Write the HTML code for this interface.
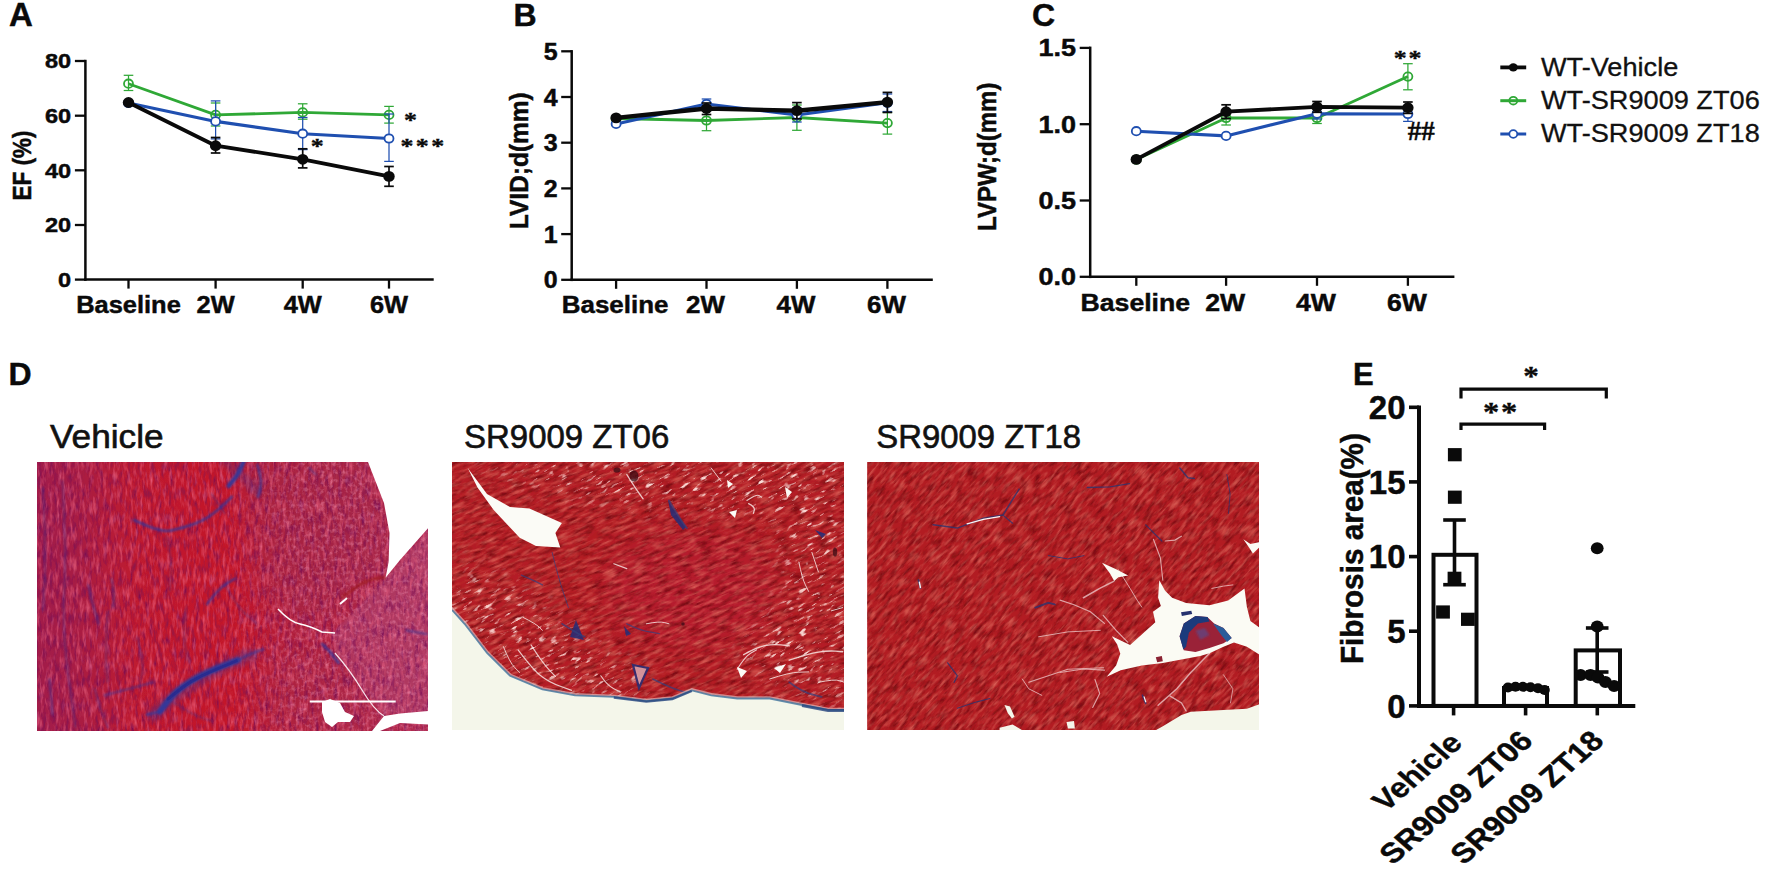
<!DOCTYPE html>
<html lang="en">
<head>
<meta charset="utf-8">
<title>Figure</title>
<style>
html,body{margin:0;padding:0;background:#fff;}
body{width:1772px;height:878px;overflow:hidden;}
svg{display:block;}
</style>
</head>
<body>
<svg width="1772" height="878" viewBox="0 0 1772 878">
<rect width="1772" height="878" fill="#fff"/>
<text transform="translate(9.0,26.0)" font-family='"Liberation Sans", sans-serif' font-size="33" font-weight="bold" text-anchor="start" fill="#0a0a0a" stroke="#0a0a0a" stroke-width="0.45" >A</text>
<line x1="128.5" y1="75.3" x2="128.5" y2="90.5" stroke="#2fa836" stroke-width="1.25" stroke-linecap="butt"/>
<line x1="123.7" y1="75.3" x2="133.3" y2="75.3" stroke="#2fa836" stroke-width="1.25" stroke-linecap="butt"/>
<line x1="123.7" y1="90.5" x2="133.3" y2="90.5" stroke="#2fa836" stroke-width="1.25" stroke-linecap="butt"/>
<line x1="215.6" y1="103.0" x2="215.6" y2="126.0" stroke="#2fa836" stroke-width="1.25" stroke-linecap="butt"/>
<line x1="210.8" y1="103.0" x2="220.4" y2="103.0" stroke="#2fa836" stroke-width="1.25" stroke-linecap="butt"/>
<line x1="210.8" y1="126.0" x2="220.4" y2="126.0" stroke="#2fa836" stroke-width="1.25" stroke-linecap="butt"/>
<line x1="302.7" y1="103.8" x2="302.7" y2="119.2" stroke="#2fa836" stroke-width="1.25" stroke-linecap="butt"/>
<line x1="297.9" y1="103.8" x2="307.5" y2="103.8" stroke="#2fa836" stroke-width="1.25" stroke-linecap="butt"/>
<line x1="297.9" y1="119.2" x2="307.5" y2="119.2" stroke="#2fa836" stroke-width="1.25" stroke-linecap="butt"/>
<line x1="389.0" y1="106.4" x2="389.0" y2="123.1" stroke="#2fa836" stroke-width="1.25" stroke-linecap="butt"/>
<line x1="384.2" y1="106.4" x2="393.8" y2="106.4" stroke="#2fa836" stroke-width="1.25" stroke-linecap="butt"/>
<line x1="384.2" y1="123.1" x2="393.8" y2="123.1" stroke="#2fa836" stroke-width="1.25" stroke-linecap="butt"/>
<polyline points="128.5,83.7 215.6,114.9 302.7,112.4 389.0,114.9" fill="none" stroke="#2fa836" stroke-width="2.8" stroke-linejoin="round"/>
<ellipse cx="128.5" cy="83.7" rx="4.5" ry="4.2" fill="none" stroke="#2fa836" stroke-width="1.8"/>
<ellipse cx="215.6" cy="114.9" rx="4.5" ry="4.2" fill="none" stroke="#2fa836" stroke-width="1.8"/>
<ellipse cx="302.7" cy="112.4" rx="4.5" ry="4.2" fill="none" stroke="#2fa836" stroke-width="1.8"/>
<ellipse cx="389.0" cy="114.9" rx="4.5" ry="4.2" fill="none" stroke="#2fa836" stroke-width="1.8"/>
<line x1="215.6" y1="100.9" x2="215.6" y2="138.9" stroke="#1f4fb0" stroke-width="1.25" stroke-linecap="butt"/>
<line x1="210.8" y1="100.9" x2="220.4" y2="100.9" stroke="#1f4fb0" stroke-width="1.25" stroke-linecap="butt"/>
<line x1="210.8" y1="138.9" x2="220.4" y2="138.9" stroke="#1f4fb0" stroke-width="1.25" stroke-linecap="butt"/>
<line x1="302.7" y1="117.5" x2="302.7" y2="149.6" stroke="#1f4fb0" stroke-width="1.25" stroke-linecap="butt"/>
<line x1="297.9" y1="117.5" x2="307.5" y2="117.5" stroke="#1f4fb0" stroke-width="1.25" stroke-linecap="butt"/>
<line x1="297.9" y1="149.6" x2="307.5" y2="149.6" stroke="#1f4fb0" stroke-width="1.25" stroke-linecap="butt"/>
<line x1="389.0" y1="114.0" x2="389.0" y2="161.4" stroke="#1f4fb0" stroke-width="1.25" stroke-linecap="butt"/>
<line x1="384.2" y1="114.0" x2="393.8" y2="114.0" stroke="#1f4fb0" stroke-width="1.25" stroke-linecap="butt"/>
<line x1="384.2" y1="161.4" x2="393.8" y2="161.4" stroke="#1f4fb0" stroke-width="1.25" stroke-linecap="butt"/>
<polyline points="128.5,103.0 215.6,121.4 302.7,133.7 389.0,138.5" fill="none" stroke="#1f4fb0" stroke-width="3.1" stroke-linejoin="round"/>
<ellipse cx="128.5" cy="103.0" rx="4.5" ry="4.2" fill="#fff" stroke="#1f4fb0" stroke-width="1.8"/>
<ellipse cx="215.6" cy="121.4" rx="4.5" ry="4.2" fill="#fff" stroke="#1f4fb0" stroke-width="1.8"/>
<ellipse cx="302.7" cy="133.7" rx="4.5" ry="4.2" fill="#fff" stroke="#1f4fb0" stroke-width="1.8"/>
<ellipse cx="389.0" cy="138.5" rx="4.5" ry="4.2" fill="#fff" stroke="#1f4fb0" stroke-width="1.8"/>
<line x1="215.6" y1="137.5" x2="215.6" y2="153.0" stroke="#0a0a0a" stroke-width="1.7" stroke-linecap="butt"/>
<line x1="210.8" y1="137.5" x2="220.4" y2="137.5" stroke="#0a0a0a" stroke-width="1.7" stroke-linecap="butt"/>
<line x1="210.8" y1="153.0" x2="220.4" y2="153.0" stroke="#0a0a0a" stroke-width="1.7" stroke-linecap="butt"/>
<line x1="302.7" y1="148.8" x2="302.7" y2="167.9" stroke="#0a0a0a" stroke-width="1.7" stroke-linecap="butt"/>
<line x1="297.9" y1="148.8" x2="307.5" y2="148.8" stroke="#0a0a0a" stroke-width="1.7" stroke-linecap="butt"/>
<line x1="297.9" y1="167.9" x2="307.5" y2="167.9" stroke="#0a0a0a" stroke-width="1.7" stroke-linecap="butt"/>
<line x1="389.0" y1="166.5" x2="389.0" y2="186.3" stroke="#0a0a0a" stroke-width="1.7" stroke-linecap="butt"/>
<line x1="384.2" y1="166.5" x2="393.8" y2="166.5" stroke="#0a0a0a" stroke-width="1.7" stroke-linecap="butt"/>
<line x1="384.2" y1="186.3" x2="393.8" y2="186.3" stroke="#0a0a0a" stroke-width="1.7" stroke-linecap="butt"/>
<polyline points="128.5,102.5 215.6,145.7 302.7,159.3 389.0,176.4" fill="none" stroke="#0a0a0a" stroke-width="3.8" stroke-linejoin="round"/>
<ellipse cx="128.5" cy="102.5" rx="5.7" ry="5.4" fill="#0a0a0a"/>
<ellipse cx="215.6" cy="145.7" rx="5.7" ry="5.4" fill="#0a0a0a"/>
<ellipse cx="302.7" cy="159.3" rx="5.7" ry="5.4" fill="#0a0a0a"/>
<ellipse cx="389.0" cy="176.4" rx="5.7" ry="5.4" fill="#0a0a0a"/>
<line x1="85.4" y1="59.8" x2="85.4" y2="280.9" stroke="#0a0a0a" stroke-width="2.5" stroke-linecap="butt"/>
<line x1="84.2" y1="279.6" x2="433.7" y2="279.6" stroke="#0a0a0a" stroke-width="2.5" stroke-linecap="butt"/>
<line x1="74.9" y1="279.6" x2="85.4" y2="279.6" stroke="#0a0a0a" stroke-width="2.3" stroke-linecap="butt"/>
<text transform="translate(71.2,286.9) scale(1.150,1)" font-family='"Liberation Sans", sans-serif' font-size="20.5" font-weight="bold" text-anchor="end" fill="#0a0a0a" stroke="#0a0a0a" stroke-width="0.45" >0</text>
<line x1="74.9" y1="225.0" x2="85.4" y2="225.0" stroke="#0a0a0a" stroke-width="2.3" stroke-linecap="butt"/>
<text transform="translate(71.2,232.3) scale(1.150,1)" font-family='"Liberation Sans", sans-serif' font-size="20.5" font-weight="bold" text-anchor="end" fill="#0a0a0a" stroke="#0a0a0a" stroke-width="0.45" >20</text>
<line x1="74.9" y1="170.3" x2="85.4" y2="170.3" stroke="#0a0a0a" stroke-width="2.3" stroke-linecap="butt"/>
<text transform="translate(71.2,177.6) scale(1.150,1)" font-family='"Liberation Sans", sans-serif' font-size="20.5" font-weight="bold" text-anchor="end" fill="#0a0a0a" stroke="#0a0a0a" stroke-width="0.45" >40</text>
<line x1="74.9" y1="115.7" x2="85.4" y2="115.7" stroke="#0a0a0a" stroke-width="2.3" stroke-linecap="butt"/>
<text transform="translate(71.2,123.0) scale(1.150,1)" font-family='"Liberation Sans", sans-serif' font-size="20.5" font-weight="bold" text-anchor="end" fill="#0a0a0a" stroke="#0a0a0a" stroke-width="0.45" >60</text>
<line x1="74.9" y1="61.0" x2="85.4" y2="61.0" stroke="#0a0a0a" stroke-width="2.3" stroke-linecap="butt"/>
<text transform="translate(71.2,68.3) scale(1.150,1)" font-family='"Liberation Sans", sans-serif' font-size="20.5" font-weight="bold" text-anchor="end" fill="#0a0a0a" stroke="#0a0a0a" stroke-width="0.45" >80</text>
<line x1="128.5" y1="279.6" x2="128.5" y2="288.6" stroke="#0a0a0a" stroke-width="2.3" stroke-linecap="butt"/>
<text transform="translate(128.5,312.8) scale(1.060,1)" font-family='"Liberation Sans", sans-serif' font-size="24" font-weight="bold" text-anchor="middle" fill="#0a0a0a" stroke="#0a0a0a" stroke-width="0.45" >Baseline</text>
<line x1="215.6" y1="279.6" x2="215.6" y2="288.6" stroke="#0a0a0a" stroke-width="2.3" stroke-linecap="butt"/>
<text transform="translate(215.6,312.8) scale(1.060,1)" font-family='"Liberation Sans", sans-serif' font-size="24" font-weight="bold" text-anchor="middle" fill="#0a0a0a" stroke="#0a0a0a" stroke-width="0.45" >2W</text>
<line x1="302.7" y1="279.6" x2="302.7" y2="288.6" stroke="#0a0a0a" stroke-width="2.3" stroke-linecap="butt"/>
<text transform="translate(302.7,312.8) scale(1.060,1)" font-family='"Liberation Sans", sans-serif' font-size="24" font-weight="bold" text-anchor="middle" fill="#0a0a0a" stroke="#0a0a0a" stroke-width="0.45" >4W</text>
<line x1="389.0" y1="279.6" x2="389.0" y2="288.6" stroke="#0a0a0a" stroke-width="2.3" stroke-linecap="butt"/>
<text transform="translate(389.0,312.8) scale(1.060,1)" font-family='"Liberation Sans", sans-serif' font-size="24" font-weight="bold" text-anchor="middle" fill="#0a0a0a" stroke="#0a0a0a" stroke-width="0.45" >6W</text>
<text transform="translate(30.6,165.5) scale(1.120,1) rotate(-90)" font-family='"Liberation Sans", sans-serif' font-size="22.5" font-weight="bold" text-anchor="middle" fill="#0a0a0a" stroke="#0a0a0a" stroke-width="0.45" >EF (%)</text>
<text transform="translate(410.5,127.3) scale(1.180,1)" font-family='"Liberation Serif", serif' font-size="22" font-weight="bold" text-anchor="middle" fill="#0a0a0a" stroke="#0a0a0a" stroke-width="0.35" >*</text>
<text transform="translate(423.5,152.8) scale(1.180,1)" font-family='"Liberation Serif", serif' font-size="22" font-weight="bold" text-anchor="middle" fill="#0a0a0a" stroke="#0a0a0a" stroke-width="0.35" letter-spacing="2">***</text>
<text transform="translate(317.3,153.0) scale(1.180,1)" font-family='"Liberation Serif", serif' font-size="22" font-weight="bold" text-anchor="middle" fill="#0a0a0a" stroke="#0a0a0a" stroke-width="0.35" >*</text>
<text transform="translate(513.5,25.6)" font-family='"Liberation Sans", sans-serif' font-size="32" font-weight="bold" text-anchor="start" fill="#0a0a0a" stroke="#0a0a0a" stroke-width="0.45" >B</text>
<line x1="706.5" y1="110.5" x2="706.5" y2="130.7" stroke="#2fa836" stroke-width="1.25" stroke-linecap="butt"/>
<line x1="701.7" y1="110.5" x2="711.3" y2="110.5" stroke="#2fa836" stroke-width="1.25" stroke-linecap="butt"/>
<line x1="701.7" y1="130.7" x2="711.3" y2="130.7" stroke="#2fa836" stroke-width="1.25" stroke-linecap="butt"/>
<line x1="796.9" y1="105.0" x2="796.9" y2="130.3" stroke="#2fa836" stroke-width="1.25" stroke-linecap="butt"/>
<line x1="792.1" y1="105.0" x2="801.7" y2="105.0" stroke="#2fa836" stroke-width="1.25" stroke-linecap="butt"/>
<line x1="792.1" y1="130.3" x2="801.7" y2="130.3" stroke="#2fa836" stroke-width="1.25" stroke-linecap="butt"/>
<line x1="887.4" y1="112.5" x2="887.4" y2="134.1" stroke="#2fa836" stroke-width="1.25" stroke-linecap="butt"/>
<line x1="882.6" y1="112.5" x2="892.2" y2="112.5" stroke="#2fa836" stroke-width="1.25" stroke-linecap="butt"/>
<line x1="882.6" y1="134.1" x2="892.2" y2="134.1" stroke="#2fa836" stroke-width="1.25" stroke-linecap="butt"/>
<polyline points="616.1,118.5 706.5,120.5 796.9,117.5 887.4,123.1" fill="none" stroke="#2fa836" stroke-width="2.8" stroke-linejoin="round"/>
<ellipse cx="616.1" cy="118.5" rx="4.5" ry="4.2" fill="none" stroke="#2fa836" stroke-width="1.8"/>
<ellipse cx="706.5" cy="120.5" rx="4.5" ry="4.2" fill="none" stroke="#2fa836" stroke-width="1.8"/>
<ellipse cx="796.9" cy="117.5" rx="4.5" ry="4.2" fill="none" stroke="#2fa836" stroke-width="1.8"/>
<ellipse cx="887.4" cy="123.1" rx="4.5" ry="4.2" fill="none" stroke="#2fa836" stroke-width="1.8"/>
<line x1="706.5" y1="99.0" x2="706.5" y2="109.0" stroke="#1f4fb0" stroke-width="1.25" stroke-linecap="butt"/>
<line x1="701.7" y1="99.0" x2="711.3" y2="99.0" stroke="#1f4fb0" stroke-width="1.25" stroke-linecap="butt"/>
<line x1="701.7" y1="109.0" x2="711.3" y2="109.0" stroke="#1f4fb0" stroke-width="1.25" stroke-linecap="butt"/>
<line x1="796.9" y1="108.0" x2="796.9" y2="122.0" stroke="#1f4fb0" stroke-width="1.25" stroke-linecap="butt"/>
<line x1="792.1" y1="108.0" x2="801.7" y2="108.0" stroke="#1f4fb0" stroke-width="1.25" stroke-linecap="butt"/>
<line x1="792.1" y1="122.0" x2="801.7" y2="122.0" stroke="#1f4fb0" stroke-width="1.25" stroke-linecap="butt"/>
<line x1="887.4" y1="94.0" x2="887.4" y2="111.5" stroke="#1f4fb0" stroke-width="1.25" stroke-linecap="butt"/>
<line x1="882.6" y1="94.0" x2="892.2" y2="94.0" stroke="#1f4fb0" stroke-width="1.25" stroke-linecap="butt"/>
<line x1="882.6" y1="111.5" x2="892.2" y2="111.5" stroke="#1f4fb0" stroke-width="1.25" stroke-linecap="butt"/>
<polyline points="616.1,123.9 706.5,104.0 796.9,115.0 887.4,102.8" fill="none" stroke="#1f4fb0" stroke-width="3.1" stroke-linejoin="round"/>
<ellipse cx="616.1" cy="123.9" rx="4.5" ry="4.2" fill="#fff" stroke="#1f4fb0" stroke-width="1.8"/>
<ellipse cx="706.5" cy="104.0" rx="4.5" ry="4.2" fill="#fff" stroke="#1f4fb0" stroke-width="1.8"/>
<ellipse cx="796.9" cy="115.0" rx="4.5" ry="4.2" fill="#fff" stroke="#1f4fb0" stroke-width="1.8"/>
<ellipse cx="887.4" cy="102.8" rx="4.5" ry="4.2" fill="#fff" stroke="#1f4fb0" stroke-width="1.8"/>
<line x1="706.5" y1="103.0" x2="706.5" y2="114.5" stroke="#0a0a0a" stroke-width="1.7" stroke-linecap="butt"/>
<line x1="701.7" y1="103.0" x2="711.3" y2="103.0" stroke="#0a0a0a" stroke-width="1.7" stroke-linecap="butt"/>
<line x1="701.7" y1="114.5" x2="711.3" y2="114.5" stroke="#0a0a0a" stroke-width="1.7" stroke-linecap="butt"/>
<line x1="796.9" y1="102.6" x2="796.9" y2="118.8" stroke="#0a0a0a" stroke-width="1.7" stroke-linecap="butt"/>
<line x1="792.1" y1="102.6" x2="801.7" y2="102.6" stroke="#0a0a0a" stroke-width="1.7" stroke-linecap="butt"/>
<line x1="792.1" y1="118.8" x2="801.7" y2="118.8" stroke="#0a0a0a" stroke-width="1.7" stroke-linecap="butt"/>
<line x1="887.4" y1="92.4" x2="887.4" y2="112.4" stroke="#0a0a0a" stroke-width="1.7" stroke-linecap="butt"/>
<line x1="882.6" y1="92.4" x2="892.2" y2="92.4" stroke="#0a0a0a" stroke-width="1.7" stroke-linecap="butt"/>
<line x1="882.6" y1="112.4" x2="892.2" y2="112.4" stroke="#0a0a0a" stroke-width="1.7" stroke-linecap="butt"/>
<polyline points="616.1,117.9 706.5,108.5 796.9,110.7 887.4,102.1" fill="none" stroke="#0a0a0a" stroke-width="4.4" stroke-linejoin="round"/>
<ellipse cx="616.1" cy="117.9" rx="5.7" ry="5.4" fill="#0a0a0a"/>
<ellipse cx="706.5" cy="108.5" rx="5.7" ry="5.4" fill="#0a0a0a"/>
<ellipse cx="796.9" cy="110.7" rx="5.7" ry="5.4" fill="#0a0a0a"/>
<ellipse cx="887.4" cy="102.1" rx="5.7" ry="5.4" fill="#0a0a0a"/>
<line x1="571.7" y1="50.1" x2="571.7" y2="281.1" stroke="#0a0a0a" stroke-width="2.5" stroke-linecap="butt"/>
<line x1="570.5" y1="279.8" x2="932.8" y2="279.8" stroke="#0a0a0a" stroke-width="2.5" stroke-linecap="butt"/>
<line x1="561.2" y1="279.8" x2="571.7" y2="279.8" stroke="#0a0a0a" stroke-width="2.3" stroke-linecap="butt"/>
<text transform="translate(557.5,288.4) scale(1.040,1)" font-family='"Liberation Sans", sans-serif' font-size="24" font-weight="bold" text-anchor="end" fill="#0a0a0a" stroke="#0a0a0a" stroke-width="0.45" >0</text>
<line x1="561.2" y1="234.1" x2="571.7" y2="234.1" stroke="#0a0a0a" stroke-width="2.3" stroke-linecap="butt"/>
<text transform="translate(557.5,242.7) scale(1.040,1)" font-family='"Liberation Sans", sans-serif' font-size="24" font-weight="bold" text-anchor="end" fill="#0a0a0a" stroke="#0a0a0a" stroke-width="0.45" >1</text>
<line x1="561.2" y1="188.4" x2="571.7" y2="188.4" stroke="#0a0a0a" stroke-width="2.3" stroke-linecap="butt"/>
<text transform="translate(557.5,197.0) scale(1.040,1)" font-family='"Liberation Sans", sans-serif' font-size="24" font-weight="bold" text-anchor="end" fill="#0a0a0a" stroke="#0a0a0a" stroke-width="0.45" >2</text>
<line x1="561.2" y1="142.7" x2="571.7" y2="142.7" stroke="#0a0a0a" stroke-width="2.3" stroke-linecap="butt"/>
<text transform="translate(557.5,151.3) scale(1.040,1)" font-family='"Liberation Sans", sans-serif' font-size="24" font-weight="bold" text-anchor="end" fill="#0a0a0a" stroke="#0a0a0a" stroke-width="0.45" >3</text>
<line x1="561.2" y1="97.0" x2="571.7" y2="97.0" stroke="#0a0a0a" stroke-width="2.3" stroke-linecap="butt"/>
<text transform="translate(557.5,105.6) scale(1.040,1)" font-family='"Liberation Sans", sans-serif' font-size="24" font-weight="bold" text-anchor="end" fill="#0a0a0a" stroke="#0a0a0a" stroke-width="0.45" >4</text>
<line x1="561.2" y1="51.3" x2="571.7" y2="51.3" stroke="#0a0a0a" stroke-width="2.3" stroke-linecap="butt"/>
<text transform="translate(557.5,59.9) scale(1.040,1)" font-family='"Liberation Sans", sans-serif' font-size="24" font-weight="bold" text-anchor="end" fill="#0a0a0a" stroke="#0a0a0a" stroke-width="0.45" >5</text>
<line x1="616.1" y1="279.8" x2="616.1" y2="288.8" stroke="#0a0a0a" stroke-width="2.3" stroke-linecap="butt"/>
<text transform="translate(615.1,313.2) scale(1.080,1)" font-family='"Liberation Sans", sans-serif' font-size="24" font-weight="bold" text-anchor="middle" fill="#0a0a0a" stroke="#0a0a0a" stroke-width="0.45" >Baseline</text>
<line x1="706.5" y1="279.8" x2="706.5" y2="288.8" stroke="#0a0a0a" stroke-width="2.3" stroke-linecap="butt"/>
<text transform="translate(705.5,313.2) scale(1.080,1)" font-family='"Liberation Sans", sans-serif' font-size="24" font-weight="bold" text-anchor="middle" fill="#0a0a0a" stroke="#0a0a0a" stroke-width="0.45" >2W</text>
<line x1="796.9" y1="279.8" x2="796.9" y2="288.8" stroke="#0a0a0a" stroke-width="2.3" stroke-linecap="butt"/>
<text transform="translate(795.9,313.2) scale(1.080,1)" font-family='"Liberation Sans", sans-serif' font-size="24" font-weight="bold" text-anchor="middle" fill="#0a0a0a" stroke="#0a0a0a" stroke-width="0.45" >4W</text>
<line x1="887.4" y1="279.8" x2="887.4" y2="288.8" stroke="#0a0a0a" stroke-width="2.3" stroke-linecap="butt"/>
<text transform="translate(886.4,313.2) scale(1.080,1)" font-family='"Liberation Sans", sans-serif' font-size="24" font-weight="bold" text-anchor="middle" fill="#0a0a0a" stroke="#0a0a0a" stroke-width="0.45" >6W</text>
<text transform="translate(528.0,160.7) scale(1.080,1) rotate(-90)" font-family='"Liberation Sans", sans-serif' font-size="24.5" font-weight="bold" text-anchor="middle" fill="#0a0a0a" stroke="#0a0a0a" stroke-width="0.45" >LVID;d(mm)</text>
<text transform="translate(1032.0,26.0)" font-family='"Liberation Sans", sans-serif' font-size="32" font-weight="bold" text-anchor="start" fill="#0a0a0a" stroke="#0a0a0a" stroke-width="0.45" >C</text>
<line x1="1226.1" y1="111.0" x2="1226.1" y2="125.0" stroke="#2fa836" stroke-width="1.25" stroke-linecap="butt"/>
<line x1="1221.3" y1="111.0" x2="1230.9" y2="111.0" stroke="#2fa836" stroke-width="1.25" stroke-linecap="butt"/>
<line x1="1221.3" y1="125.0" x2="1230.9" y2="125.0" stroke="#2fa836" stroke-width="1.25" stroke-linecap="butt"/>
<line x1="1317.0" y1="112.0" x2="1317.0" y2="123.5" stroke="#2fa836" stroke-width="1.25" stroke-linecap="butt"/>
<line x1="1312.2" y1="112.0" x2="1321.8" y2="112.0" stroke="#2fa836" stroke-width="1.25" stroke-linecap="butt"/>
<line x1="1312.2" y1="123.5" x2="1321.8" y2="123.5" stroke="#2fa836" stroke-width="1.25" stroke-linecap="butt"/>
<line x1="1407.9" y1="63.7" x2="1407.9" y2="89.8" stroke="#2fa836" stroke-width="1.25" stroke-linecap="butt"/>
<line x1="1403.1" y1="63.7" x2="1412.7" y2="63.7" stroke="#2fa836" stroke-width="1.25" stroke-linecap="butt"/>
<line x1="1403.1" y1="89.8" x2="1412.7" y2="89.8" stroke="#2fa836" stroke-width="1.25" stroke-linecap="butt"/>
<polyline points="1136.3,159.6 1226.1,118.0 1317.0,118.0 1407.9,76.6" fill="none" stroke="#2fa836" stroke-width="2.8" stroke-linejoin="round"/>
<ellipse cx="1136.3" cy="159.6" rx="4.5" ry="4.2" fill="none" stroke="#2fa836" stroke-width="1.8"/>
<ellipse cx="1226.1" cy="118.0" rx="4.5" ry="4.2" fill="none" stroke="#2fa836" stroke-width="1.8"/>
<ellipse cx="1317.0" cy="118.0" rx="4.5" ry="4.2" fill="none" stroke="#2fa836" stroke-width="1.8"/>
<ellipse cx="1407.9" cy="76.6" rx="4.5" ry="4.2" fill="none" stroke="#2fa836" stroke-width="1.8"/>
<line x1="1317.0" y1="108.5" x2="1317.0" y2="119.0" stroke="#1f4fb0" stroke-width="1.25" stroke-linecap="butt"/>
<line x1="1312.2" y1="108.5" x2="1321.8" y2="108.5" stroke="#1f4fb0" stroke-width="1.25" stroke-linecap="butt"/>
<line x1="1312.2" y1="119.0" x2="1321.8" y2="119.0" stroke="#1f4fb0" stroke-width="1.25" stroke-linecap="butt"/>
<line x1="1407.9" y1="106.5" x2="1407.9" y2="121.4" stroke="#1f4fb0" stroke-width="1.25" stroke-linecap="butt"/>
<line x1="1403.1" y1="106.5" x2="1412.7" y2="106.5" stroke="#1f4fb0" stroke-width="1.25" stroke-linecap="butt"/>
<line x1="1403.1" y1="121.4" x2="1412.7" y2="121.4" stroke="#1f4fb0" stroke-width="1.25" stroke-linecap="butt"/>
<polyline points="1136.3,131.2 1226.1,135.9 1317.0,113.7 1407.9,114.0" fill="none" stroke="#1f4fb0" stroke-width="3.1" stroke-linejoin="round"/>
<ellipse cx="1136.3" cy="131.2" rx="4.5" ry="4.2" fill="#fff" stroke="#1f4fb0" stroke-width="1.8"/>
<ellipse cx="1226.1" cy="135.9" rx="4.5" ry="4.2" fill="#fff" stroke="#1f4fb0" stroke-width="1.8"/>
<ellipse cx="1317.0" cy="113.7" rx="4.5" ry="4.2" fill="#fff" stroke="#1f4fb0" stroke-width="1.8"/>
<ellipse cx="1407.9" cy="114.0" rx="4.5" ry="4.2" fill="#fff" stroke="#1f4fb0" stroke-width="1.8"/>
<line x1="1226.1" y1="104.8" x2="1226.1" y2="118.5" stroke="#0a0a0a" stroke-width="1.7" stroke-linecap="butt"/>
<line x1="1221.3" y1="104.8" x2="1230.9" y2="104.8" stroke="#0a0a0a" stroke-width="1.7" stroke-linecap="butt"/>
<line x1="1221.3" y1="118.5" x2="1230.9" y2="118.5" stroke="#0a0a0a" stroke-width="1.7" stroke-linecap="butt"/>
<line x1="1317.0" y1="101.5" x2="1317.0" y2="112.3" stroke="#0a0a0a" stroke-width="1.7" stroke-linecap="butt"/>
<line x1="1312.2" y1="101.5" x2="1321.8" y2="101.5" stroke="#0a0a0a" stroke-width="1.7" stroke-linecap="butt"/>
<line x1="1312.2" y1="112.3" x2="1321.8" y2="112.3" stroke="#0a0a0a" stroke-width="1.7" stroke-linecap="butt"/>
<line x1="1407.9" y1="102.0" x2="1407.9" y2="113.4" stroke="#0a0a0a" stroke-width="1.7" stroke-linecap="butt"/>
<line x1="1403.1" y1="102.0" x2="1412.7" y2="102.0" stroke="#0a0a0a" stroke-width="1.7" stroke-linecap="butt"/>
<line x1="1403.1" y1="113.4" x2="1412.7" y2="113.4" stroke="#0a0a0a" stroke-width="1.7" stroke-linecap="butt"/>
<polyline points="1136.3,159.4 1226.1,111.7 1317.0,106.9 1407.9,107.7" fill="none" stroke="#0a0a0a" stroke-width="3.8" stroke-linejoin="round"/>
<ellipse cx="1136.3" cy="159.4" rx="5.7" ry="5.4" fill="#0a0a0a"/>
<ellipse cx="1226.1" cy="111.7" rx="5.7" ry="5.4" fill="#0a0a0a"/>
<ellipse cx="1317.0" cy="106.9" rx="5.7" ry="5.4" fill="#0a0a0a"/>
<ellipse cx="1407.9" cy="107.7" rx="5.7" ry="5.4" fill="#0a0a0a"/>
<line x1="1090.2" y1="46.6" x2="1090.2" y2="278.1" stroke="#0a0a0a" stroke-width="2.5" stroke-linecap="butt"/>
<line x1="1089.0" y1="276.8" x2="1454.4" y2="276.8" stroke="#0a0a0a" stroke-width="2.5" stroke-linecap="butt"/>
<line x1="1079.7" y1="276.8" x2="1090.2" y2="276.8" stroke="#0a0a0a" stroke-width="2.3" stroke-linecap="butt"/>
<text transform="translate(1076.0,285.2) scale(1.150,1)" font-family='"Liberation Sans", sans-serif' font-size="23.5" font-weight="bold" text-anchor="end" fill="#0a0a0a" stroke="#0a0a0a" stroke-width="0.45" >0.0</text>
<line x1="1079.7" y1="200.5" x2="1090.2" y2="200.5" stroke="#0a0a0a" stroke-width="2.3" stroke-linecap="butt"/>
<text transform="translate(1076.0,208.9) scale(1.150,1)" font-family='"Liberation Sans", sans-serif' font-size="23.5" font-weight="bold" text-anchor="end" fill="#0a0a0a" stroke="#0a0a0a" stroke-width="0.45" >0.5</text>
<line x1="1079.7" y1="124.2" x2="1090.2" y2="124.2" stroke="#0a0a0a" stroke-width="2.3" stroke-linecap="butt"/>
<text transform="translate(1076.0,132.6) scale(1.150,1)" font-family='"Liberation Sans", sans-serif' font-size="23.5" font-weight="bold" text-anchor="end" fill="#0a0a0a" stroke="#0a0a0a" stroke-width="0.45" >1.0</text>
<line x1="1079.7" y1="47.9" x2="1090.2" y2="47.9" stroke="#0a0a0a" stroke-width="2.3" stroke-linecap="butt"/>
<text transform="translate(1076.0,56.3) scale(1.150,1)" font-family='"Liberation Sans", sans-serif' font-size="23.5" font-weight="bold" text-anchor="end" fill="#0a0a0a" stroke="#0a0a0a" stroke-width="0.45" >1.5</text>
<line x1="1136.3" y1="276.8" x2="1136.3" y2="285.8" stroke="#0a0a0a" stroke-width="2.3" stroke-linecap="butt"/>
<text transform="translate(1135.3,310.9) scale(1.110,1)" font-family='"Liberation Sans", sans-serif' font-size="24" font-weight="bold" text-anchor="middle" fill="#0a0a0a" stroke="#0a0a0a" stroke-width="0.45" >Baseline</text>
<line x1="1226.1" y1="276.8" x2="1226.1" y2="285.8" stroke="#0a0a0a" stroke-width="2.3" stroke-linecap="butt"/>
<text transform="translate(1225.1,310.9) scale(1.110,1)" font-family='"Liberation Sans", sans-serif' font-size="24" font-weight="bold" text-anchor="middle" fill="#0a0a0a" stroke="#0a0a0a" stroke-width="0.45" >2W</text>
<line x1="1317.0" y1="276.8" x2="1317.0" y2="285.8" stroke="#0a0a0a" stroke-width="2.3" stroke-linecap="butt"/>
<text transform="translate(1316.0,310.9) scale(1.110,1)" font-family='"Liberation Sans", sans-serif' font-size="24" font-weight="bold" text-anchor="middle" fill="#0a0a0a" stroke="#0a0a0a" stroke-width="0.45" >4W</text>
<line x1="1407.9" y1="276.8" x2="1407.9" y2="285.8" stroke="#0a0a0a" stroke-width="2.3" stroke-linecap="butt"/>
<text transform="translate(1406.9,310.9) scale(1.110,1)" font-family='"Liberation Sans", sans-serif' font-size="24" font-weight="bold" text-anchor="middle" fill="#0a0a0a" stroke="#0a0a0a" stroke-width="0.45" >6W</text>
<text transform="translate(996.0,156.8) scale(1.080,1) rotate(-90)" font-family='"Liberation Sans", sans-serif' font-size="24" font-weight="bold" text-anchor="middle" fill="#0a0a0a" stroke="#0a0a0a" stroke-width="0.45" >LVPW;d(mm)</text>
<text transform="translate(1408.4,65.0) scale(1.180,1)" font-family='"Liberation Serif", serif' font-size="22" font-weight="bold" text-anchor="middle" fill="#0a0a0a" stroke="#0a0a0a" stroke-width="0.35" letter-spacing="1.5">**</text>
<text transform="translate(1421.3,140.3)" font-family='"Liberation Serif", serif' font-size="27" font-weight="bold" text-anchor="middle" fill="#0a0a0a" stroke="#0a0a0a" stroke-width="0.35" >##</text>
<line x1="1500.3" y1="67.4" x2="1526.2" y2="67.4" stroke="#0a0a0a" stroke-width="3.8" stroke-linecap="butt"/>
<ellipse cx="1513.3" cy="67.4" rx="4.5" ry="4.2" fill="#0a0a0a"/>
<text transform="translate(1541.0,75.7) scale(1.065,1)" font-family='"Liberation Sans", sans-serif' font-size="25.5" font-weight="normal" text-anchor="start" fill="#111" stroke="#111" stroke-width="0.3" >WT-Vehicle</text>
<line x1="1500.3" y1="100.7" x2="1526.2" y2="100.7" stroke="#2fa836" stroke-width="3.0" stroke-linecap="butt"/>
<ellipse cx="1513.3" cy="100.7" rx="4.0" ry="3.8" fill="none" stroke="#2fa836" stroke-width="1.8"/>
<text transform="translate(1541.0,108.8) scale(1.065,1)" font-family='"Liberation Sans", sans-serif' font-size="25.5" font-weight="normal" text-anchor="start" fill="#111" stroke="#111" stroke-width="0.3" >WT-SR9009 ZT06</text>
<line x1="1500.3" y1="134.0" x2="1526.2" y2="134.0" stroke="#1f4fb0" stroke-width="3.0" stroke-linecap="butt"/>
<ellipse cx="1513.3" cy="134.0" rx="4.0" ry="3.8" fill="#fff" stroke="#1f4fb0" stroke-width="1.8"/>
<text transform="translate(1541.0,142.0) scale(1.065,1)" font-family='"Liberation Sans", sans-serif' font-size="25.5" font-weight="normal" text-anchor="start" fill="#111" stroke="#111" stroke-width="0.3" >WT-SR9009 ZT18</text>
<text transform="translate(8.6,385.0)" font-family='"Liberation Sans", sans-serif' font-size="32" font-weight="bold" text-anchor="start" fill="#0a0a0a" stroke="#0a0a0a" stroke-width="0.45" >D</text>
<text transform="translate(50.0,448.2) scale(1.085,1)" font-family='"Liberation Sans", sans-serif' font-size="32.5" font-weight="normal" text-anchor="start" fill="#111" stroke="#111" stroke-width="0.6" >Vehicle</text>
<text transform="translate(464.0,448.2) scale(1.015,1)" font-family='"Liberation Sans", sans-serif' font-size="32.5" font-weight="normal" text-anchor="start" fill="#111" stroke="#111" stroke-width="0.6" >SR9009 ZT06</text>
<text transform="translate(876.3,448.2) scale(1.012,1)" font-family='"Liberation Sans", sans-serif' font-size="32.5" font-weight="normal" text-anchor="start" fill="#111" stroke="#111" stroke-width="0.6" >SR9009 ZT18</text>
<defs>
<filter id="tex1" x="0" y="0" width="100%" height="100%" color-interpolation-filters="sRGB">
  <feTurbulence type="fractalNoise" baseFrequency="0.30 0.07" numOctaves="3" seed="7" result="n"/>
  <feColorMatrix in="n" type="matrix" values="0 0 0 0 0.93  0 0 0 0 0.40  0 0 0 0 0.52  1.6 0 0 0 -0.74" result="light"/>
  <feTurbulence type="fractalNoise" baseFrequency="0.26 0.08" numOctaves="3" seed="23" result="n2"/>
  <feColorMatrix in="n2" type="matrix" values="0 0 0 0 0.45  0 0 0 0 0.05  0 0 0 0 0.34  0 1.7 0 0 -0.76" result="dark"/>
  <feMerge><feMergeNode in="dark"/><feMergeNode in="light"/></feMerge>
</filter>
<filter id="tex1b" x="0" y="0" width="100%" height="100%" color-interpolation-filters="sRGB">
  <feTurbulence type="fractalNoise" baseFrequency="0.24 0.24" numOctaves="3" seed="5" result="n"/>
  <feColorMatrix in="n" type="matrix" values="0 0 0 0 0.96  0 0 0 0 0.62  0 0 0 0 0.74  1.7 0 0 0 -0.78" result="light"/>
  <feMerge><feMergeNode in="light"/></feMerge>
</filter>
<filter id="tex2" x="0" y="0" width="100%" height="100%" color-interpolation-filters="sRGB">
  <feTurbulence type="fractalNoise" baseFrequency="0.07 0.30" numOctaves="3" seed="11" result="n"/>
  <feColorMatrix in="n" type="matrix" values="0 0 0 0 0.90  0 0 0 0 0.46  0 0 0 0 0.40  1.6 0 0 0 -0.72" result="light"/>
  <feTurbulence type="fractalNoise" baseFrequency="0.08 0.26" numOctaves="3" seed="31" result="n2"/>
  <feColorMatrix in="n2" type="matrix" values="0 0 0 0 0.40  0 0 0 0 0.02  0 0 0 0 0.05  0 1.8 0 0 -0.78" result="dark"/>
  <feMerge><feMergeNode in="dark"/><feMergeNode in="light"/></feMerge>
</filter>
<filter id="specks" x="0" y="0" width="100%" height="100%" color-interpolation-filters="sRGB">
  <feTurbulence type="fractalNoise" baseFrequency="0.10 0.34" numOctaves="2" seed="3" result="n"/>
  <feColorMatrix in="n" type="matrix" values="0 0 0 0 1  0 0 0 0 0.90  0 0 0 0 0.88  5.5 0 0 0 -3.25" result="s"/>
  <feMerge><feMergeNode in="s"/></feMerge>
</filter>
<filter id="soft" x="-2%" y="-2%" width="104%" height="104%"><feGaussianBlur stdDeviation="0.55"/></filter>
<filter id="b1" x="-20%" y="-20%" width="140%" height="140%"><feGaussianBlur stdDeviation="1.1"/></filter>
<filter id="b2" x="-20%" y="-20%" width="140%" height="140%"><feGaussianBlur stdDeviation="0.6"/></filter>
<filter id="b3" x="-30%" y="-30%" width="160%" height="160%"><feGaussianBlur stdDeviation="2.6"/></filter>
<filter id="b12" x="-30%" y="-30%" width="160%" height="160%"><feGaussianBlur stdDeviation="14"/></filter>
<linearGradient id="mg1" gradientUnits="userSpaceOnUse" x1="215" y1="0" x2="300" y2="0"><stop offset="0" stop-color="#000"/><stop offset="1" stop-color="#fff"/></linearGradient>
<mask id="m1" maskUnits="userSpaceOnUse" x="36" y="460" width="394" height="272"><rect x="36" y="460" width="394" height="272" fill="url(#mg1)"/></mask>
<clipPath id="c1"><rect x="37" y="462" width="391" height="269"/></clipPath>
<clipPath id="c2"><rect x="452" y="462" width="392" height="268"/></clipPath>
<clipPath id="c3"><rect x="867" y="462" width="392" height="268"/></clipPath>
<linearGradient id="g1" x1="0" y1="0" x2="1" y2="0">
  <stop offset="0" stop-color="#a21c4a"/><stop offset="0.10" stop-color="#a81d44"/><stop offset="0.25" stop-color="#be1a30"/>
  <stop offset="0.5" stop-color="#c4182a"/><stop offset="0.68" stop-color="#b21e3a"/>
  <stop offset="1" stop-color="#ae2c52"/>
</linearGradient>
</defs>
<g clip-path="url(#c1)"><g filter="url(#soft)">
<rect x="36.7" y="462" width="391.4" height="269" fill="url(#g1)"/>
<path d="M244.3,455.0 L374.2,455.0 L390.4,519.9 L387.1,578.4 L341.7,604.4 L296.2,630.3 L263.8,591.4 L247.5,526.4 Z" fill="#a0264a" opacity="0.6" filter="url(#b12)"/>
<path d="M385.5,577.7 L431.0,528.1 L431.0,711.5 L383.9,714.7 L335.2,653.1 L331.9,633.6 Z" fill="#b03c68" opacity="0.75" filter="url(#b1)"/>
<path d="M276.8,636.8 L335.2,653.1 L383.9,714.7 L374.2,734.2 L257.3,734.2 L263.8,682.3 Z" fill="#a82a4c" opacity="0.45" filter="url(#b12)"/>
<rect x="36.7" y="462" width="391.4" height="269" filter="url(#tex1)"/>
<g mask="url(#m1)"><rect x="36.7" y="462" width="391.4" height="269" filter="url(#tex1b)" opacity="0.6"/></g>
<g fill="none" stroke="#33389a" stroke-linecap="round" filter="url(#b1)">
<path d="M159.9,711.5 Q169.6,698.5 176.1,692.3 Q182.6,686.2 190.7,681.3 Q198.8,676.4 208.6,672.0 Q218.3,667.7 228.1,663.9 L237.8,660.2" stroke-width="6.2" opacity="1.0"/>
<path d="M237.8,660.2 Q250.8,653.7 257.3,651.4 L263.8,649.2" stroke-width="2.2" opacity="0.7"/>
<path d="M146.9,714.7 L159.9,711.5" stroke-width="2.5" opacity="0.8"/>
<path d="M244.9,458.2 Q239.4,472.9 234.1,479.4 L228.7,485.8" stroke-width="4.6" opacity="0.95"/>
<path d="M257.3,464.7 Q262.5,481.0 260.2,489.1 L257.9,497.2" stroke-width="2.4" opacity="0.8"/>
<path d="M133.9,519.9 Q159.9,532.9 171.2,530.5 Q182.6,528.1 194.0,524.0 Q205.3,519.9 213.4,513.4 Q221.6,506.9 226.8,501.8 L231.9,496.6" stroke-width="2.4" opacity="0.85"/>
<path d="M206.9,604.4 Q218.3,588.8 226.8,583.6 L235.2,578.4" stroke-width="2.4" opacity="0.8"/>
<path d="M104.7,695.3 Q127.4,689.4 140.4,685.8 L153.4,682.3" stroke-width="2.0" opacity="0.6"/>
<path d="M88.4,584.9 Q91.7,601.1 95.3,612.5 L98.8,623.8" stroke-width="2.0" opacity="0.6"/>
<path d="M111.2,578.4 Q115.1,594.6 113.9,601.1 L112.8,607.6" stroke-width="1.8" opacity="0.55"/>
<path d="M62.5,481.0 Q66.4,552.4 64.4,588.1 Q62.5,623.8 65.7,653.1 Q69.0,682.3 72.2,705.0 L75.5,727.7" stroke-width="1.8" opacity="0.45"/>
<path d="M49.5,679.0 L52.7,714.7" stroke-width="2.0" opacity="0.6"/>
<path d="M43.0,487.5 Q46.2,552.4 44.6,581.6 L43.0,610.8" stroke-width="1.8" opacity="0.4"/>
<path d="M107.9,610.8 Q105.3,649.8 106.3,666.0 L107.3,682.3" stroke-width="1.6" opacity="0.45"/>
<path d="M137.1,636.8 Q143.6,662.8 142.0,672.5 L140.4,682.3" stroke-width="1.6" opacity="0.45"/>
<path d="M166.4,536.2 Q172.9,562.1 171.2,576.8 L169.6,591.4" stroke-width="1.5" opacity="0.4"/>
<path d="M185.8,607.6 Q182.6,636.8 185.8,649.8 L189.1,662.8" stroke-width="1.5" opacity="0.4"/>
<path d="M224.8,584.9 Q237.8,607.6 247.5,615.7 L257.3,623.8" stroke-width="1.5" opacity="0.4"/>
<path d="M211.8,494.0 L224.8,513.4" stroke-width="1.6" opacity="0.5"/>
<path d="M322.2,644.0 Q329.4,650.5 333.9,656.6 L338.4,662.8" stroke-width="3.0" opacity="0.8"/>
<path d="M406.6,630.3 L426.8,634.2" stroke-width="2.2" opacity="0.6"/>
<path d="M309.2,468.0 L315.7,474.5" stroke-width="2.0" opacity="0.5"/>
<path d="M172.9,701.8 Q192.3,714.7 202.1,718.0 L211.8,721.2" stroke-width="1.6" opacity="0.4"/>
<path d="M94.9,688.8 Q99.8,708.2 103.9,718.0 L107.9,727.7" stroke-width="1.8" opacity="0.45"/>
</g>
<path d="M168.0,699.2 Q182.6,686.8 190.7,681.9 Q198.8,677.1 208.6,672.7 Q218.3,668.3 227.4,664.6 L236.5,660.8" fill="none" stroke="#20288a" stroke-width="3" stroke-linecap="round" filter="url(#b2)"/>
<path d="M153.4,714.7 Q172.9,696.9 185.8,688.0 Q198.8,679.0 211.8,672.5 Q224.8,666.0 237.8,660.4 L250.8,654.7" fill="none" stroke="#3a3a9a" stroke-width="13" stroke-linecap="round" opacity="0.33" filter="url(#b3)"/>
<path d="M224.8,461.5 Q241.0,474.5 249.2,482.6 L257.3,490.7" fill="none" stroke="#3a3a9a" stroke-width="10" stroke-linecap="round" opacity="0.25" filter="url(#b3)"/>
<path d="M368,462 L375,480 L384,503 L389.5,533 L388.6,562 L385.6,577.7 L400,560 L415,543 L428.2,528 L428.2,462 Z" fill="#fff" filter="url(#b2)"/>
<path d="M322,702 L330,699 L340,703 L345,712 L354,716 L350,722 L338,722 L332,727 L325,722 L322,712 Z" fill="#fff" filter="url(#b2)"/>
<path d="M384,716 L400,713.5 L428.2,711 L428.2,724.5 L400,723 L380,731 L372,731 Z" fill="#fff" filter="url(#b2)"/>
<path d="M278,609 Q290,622 300,624 T322,632 L335,633" fill="none" stroke="#fff" stroke-width="1.5" filter="url(#b2)"/>
<path d="M335,653 Q350,670 362,690 T384,716" fill="none" stroke="#f6e6ee" stroke-width="1.2" filter="url(#b2)"/>
<path d="M340,604 L347,598" fill="none" stroke="#fff" stroke-width="2" filter="url(#b2)"/>
<path d="M341.7,597.9 Q357.9,584.9 366.0,581.6 Q374.2,578.4 379.8,578.1 L385.5,577.7" fill="none" stroke="#a01a20" stroke-width="3" opacity="0.8" filter="url(#b1)"/>
<rect x="309.7" y="700.5" width="86" height="2" fill="#fff"/>
</g></g>
<g clip-path="url(#c2)"><g filter="url(#soft)">
<rect x="452" y="462" width="392" height="268.5" fill="#b41e25"/>
<ellipse cx="690" cy="590" rx="90" ry="60" fill="#b81c34" opacity="0.5" filter="url(#b12)"/>
<rect x="380" y="340" width="540" height="520" transform="rotate(-22 648 596)" filter="url(#tex2)"/>
<mask id="m2" maskUnits="userSpaceOnUse" x="450" y="460" width="396" height="272"><g filter="url(#b12)" fill="#fff">
<path d="M464.5,455.0 L847.6,455.0 L847.6,494.0 L737.2,510.2 L639.8,503.7 L568.4,494.0 L509.9,474.5 Z"/>
<path d="M769.7,494.0 L847.6,487.5 L847.6,708.2 L769.7,682.3 L737.2,649.8 L789.2,591.4 Z" opacity="0.9"/>
<path d="M451.5,562.1 L522.9,591.4 L581.4,636.8 L652.8,679.0 L639.8,701.8 L542.4,688.8 L484.0,649.8 L451.5,610.8 Z" opacity="0.9"/>
</g></mask>
<g mask="url(#m2)"><rect x="380" y="340" width="540" height="520" transform="rotate(-30 648 596)" filter="url(#specks)"/></g>
<g fill="none" stroke="#f6e4e2" stroke-linecap="round" filter="url(#b2)" opacity="0.85">
<path d="M518.1,649.8 Q532.7,669.3 540.8,675.8 Q548.9,682.3 560.3,686.3 L571.6,690.4" stroke-width="1.2"/>
<path d="M531.0,644.9 Q542.4,662.8 548.9,669.6 L555.4,676.4" stroke-width="1.1"/>
<path d="M503.4,646.6 Q509.9,662.8 514.8,667.7 L519.7,672.5" stroke-width="1.0"/>
<path d="M743.7,654.7 Q756.7,647.2 764.8,645.6 Q772.9,644.0 781.0,644.9 L789.2,645.9" stroke-width="1.4"/>
<path d="M789.2,660.2 Q808.6,653.7 818.4,652.1 Q828.1,650.5 835.4,651.1 L842.7,651.8" stroke-width="1.4"/>
<path d="M737.2,669.3 Q745.3,656.3 751.0,653.1 L756.7,649.8" stroke-width="1.1"/>
<path d="M769.7,679.0 Q789.2,672.5 798.9,672.2 L808.6,671.9" stroke-width="1.0"/>
<path d="M818.4,682.3 Q834.6,679.0 839.5,680.6 L844.4,682.3" stroke-width="1.0"/>
<path d="M626.8,474.5 Q634.9,487.5 639.0,493.1 L643.1,498.8" stroke-width="1.4"/>
<path d="M748.6,503.7 Q755.1,506.9 754.3,510.2 L753.4,513.4" stroke-width="1.3"/>
<path d="M746.9,500.5 Q756.7,494.0 759.1,495.6 L761.6,497.2" stroke-width="1.1"/>
<path d="M711.2,468.0 L721.0,481.0" stroke-width="1.0"/>
<path d="M798.9,562.1 Q802.1,578.4 805.4,584.9 L808.6,591.4" stroke-width="1.0"/>
<path d="M811.9,552.4 L818.4,571.9" stroke-width="1.0"/>
<path d="M831.4,610.8 L842.7,607.6" stroke-width="1.0"/>
<path d="M600.8,675.8 Q607.3,685.5 613.8,688.8 L620.3,692.0" stroke-width="1.1"/>
<path d="M613.8,563.8 L626.8,568.6" stroke-width="1.2"/>
<path d="M522.9,617.3 Q535.9,623.8 539.2,627.1 L542.4,630.3" stroke-width="1.0"/>
<path d="M646.3,623.8 Q659.3,621.2 664.2,622.5 L669.0,623.8" stroke-width="1.0"/>
</g>
<g fill="#3a0d18" filter="url(#b2)" opacity="0.75"><ellipse cx="634" cy="476" rx="4.5" ry="5.5"/><ellipse cx="617" cy="470" rx="3.5" ry="2.6"/><ellipse cx="835" cy="552" rx="2.2" ry="4.5"/><ellipse cx="683" cy="624" rx="1.8" ry="1.8"/></g>
<g fill="#2b2f74" filter="url(#b2)" opacity="0.9">
<path d="M576,620 L584,640 L570,637 Z"/>
<path d="M633,665 L648,668 L639,688 Z" fill="#d8a0a8" stroke="#2b2f74" stroke-width="2.2"/>
<path d="M668,500 L674,510 L686,527 L683,530 L671,515 Z"/>
<path d="M815,530 L826,534 L822,538 Z"/>
<path d="M624,626 L631,634 L626,636 Z"/>
</g>
<g fill="none" stroke="#34407e" stroke-linecap="round" filter="url(#b2)" opacity="0.7">
<path d="M561.9,623.8 Q574.9,631.9 579.7,634.4 L584.6,636.8" stroke-width="1.6"/>
<path d="M626.8,623.8 Q639.8,630.3 649.5,631.9 L659.3,633.6" stroke-width="1.4"/>
<path d="M521.3,575.1 Q532.7,580.0 537.5,582.4 L542.4,584.9" stroke-width="1.3"/>
<path d="M652.8,679.0 Q672.3,688.8 682.0,691.2 L691.8,693.6" stroke-width="1.6"/>
<path d="M789.2,682.3 Q802.1,692.0 811.9,694.4 L821.6,696.9" stroke-width="1.8"/>
<path d="M669.0,500.5 Q678.8,516.7 682.8,522.4 L686.9,528.1" stroke-width="1.8"/>
<path d="M552.1,552.4 Q558.6,578.4 563.5,593.0 L568.4,607.6" stroke-width="1.0"/>
</g>
<path d="M440,596 L452,610 L464.5,623.8 L487,653 L510,675.8 L542.4,689.4 L575,695.3 L613.8,696.9 L646.3,701 L672.3,698.5 L691.8,690.4 L711.2,695.3 L737.2,698.5 L769.7,698.5 L802,705 L828,709.9 L846,710" fill="none" stroke="#e9dfe2" stroke-width="4.5" opacity="0.55" filter="url(#b2)"/>
<path d="M440,598 L452,610 L464.5,623.8 L487,653 L510,675.8 L542.4,689.4 L575,695.3 L613.8,696.9 L646.3,701 L672.3,698.5 L691.8,690.4 L711.2,695.3 L737.2,698.5 L769.7,698.5 L802,705 L828,709.9 L846,710 L846,745 L440,745 Z" fill="#f4f6ea" filter="url(#b2)"/>
<path d="M452,610 L464.5,623.8 L487,653 L510,675.8 L542.4,689.4 L575,695.3 L613.8,696.9 L646.3,701 L672.3,698.5 L691.8,690.4 L711.2,695.3 L737.2,698.5 L769.7,698.5 L802,705 L828,709.9 L846,710" fill="none" stroke="#4a7aa0" stroke-width="1.8" opacity="0.85" filter="url(#b2)"/>
<path d="M613.8,697.5 L646.3,701.6 L672.3,699 L691.8,691" fill="none" stroke="#27457e" stroke-width="2.4" opacity="0.8" filter="url(#b2)"/>
<path d="M802,705.5 L828,710.4 L846,710.5" fill="none" stroke="#27457e" stroke-width="3" opacity="0.8" filter="url(#b2)"/>
<path d="M467.7,468 L487,494 L510,507 L529.4,508.6 L561.9,523 L555.4,533 L560.3,547.5 L536,546 L519.7,537.8 L493.7,510 L477.5,487.5 Z" fill="#fbfbf6" filter="url(#b2)"/>
<path d="M737,667 L747,671 L741,678 Z M774,668 L786,664 L780,673 Z M785,487 L792,492 L787,498 Z M729,512 L737,510 L735,518 Z M727,480 L733,484 L728,488 Z" fill="#fbfbf6" filter="url(#b2)"/>
</g></g>
<g clip-path="url(#c3)"><g filter="url(#soft)">
<rect x="867.2" y="462" width="392" height="268.5" fill="#b21c22"/>
<rect x="790" y="330" width="550" height="540" transform="rotate(-48 1063 596)" filter="url(#tex2)"/>
<g fill="none" stroke="#f0cfd0" stroke-linecap="round" filter="url(#b2)" opacity="0.75">
<path d="M1060.0,672.5 L1083.4,669.0 L1104.4,670.2" stroke-width="1.2"/>
<path d="M1060.0,600.1 L1074.0,604.7 L1090.4,611.8 L1104.4,623.4" stroke-width="1.2"/>
<path d="M1209.5,653.3 L1190.8,672.5 L1176.8,688.8 L1167.5,697.0 L1158.1,705.2" stroke-width="1.5"/>
<path d="M1169.8,695.8 L1181.5,702.9 L1186.1,711.0" stroke-width="1.4"/>
<path d="M1103.2,615.3 L1116.1,630.4 L1127.7,642.1" stroke-width="1.2"/>
<path d="M1083.4,597.7 L1099.7,588.4 L1113.7,581.4" stroke-width="1.6"/>
<path d="M1211.8,588.4 L1223.5,586.1 L1232.9,584.9" stroke-width="1.0"/>
<path d="M1095.0,679.5 L1099.7,693.5 L1092.7,707.5" stroke-width="1.1"/>
<path d="M1118.4,569.7 L1130.1,588.4 L1137.1,600.1 L1141.8,607.1" stroke-width="1.0"/>
<path d="M1162.8,580.2 L1160.4,558.0 L1153.4,539.3" stroke-width="1.1"/>
<path d="M1223.5,674.8 L1232.9,688.8 L1230.5,702.9" stroke-width="0.9"/>
<path d="M1028.8,682.3 L1067.8,669.3 L1103.5,667.7" stroke-width="1.1"/>
<path d="M1038.6,636.8 L1067.8,631.9 L1100.3,630.3" stroke-width="1.0"/>
<path d="M1022.3,679.0 L1028.8,688.8 L1041.8,695.3" stroke-width="1.0"/>
<path d="M1165.2,541.0 L1174.9,540.1 L1181.4,536.2" stroke-width="1.2"/>
</g>
<path d="M1159.3,580.2 L1165.1,590.7 L1172.1,597.7 L1186.1,602.9 L1209.5,605.2 L1228.2,600.5 L1244.5,588.4 L1246.9,607.1 L1250.4,621.1 L1260.0,628.1 L1260.0,655.0 L1246.9,646.8 L1234.0,642.6 L1223.5,646.8 L1209.5,653.3 L1200.2,656.1 L1181.5,659.6 L1162.8,663.1 L1141.8,665.5 L1120.7,670.2 L1106.7,676.7 L1116.1,665.5 L1120.3,653.8 L1117.2,644.5 L1111.9,636.3 L1130.1,644.9 L1155.3,622.3 L1153.0,611.8 L1160.9,605.9 L1158.1,597.7 Z" fill="#fbfbf4" filter="url(#b2)"/>
<path d="M1102.0,562.7 L1116.1,569.2 L1128.2,575.6 L1118.4,577.2 L1114.2,580.9 L1110.0,573.4 Z" fill="#fbfbf4" filter="url(#b2)"/>
<path d="M1243.4,539.3 L1250.4,544.0 L1260.0,542.1 L1260.0,546.8 L1252.9,553.4 L1249.2,547.8 Z" fill="#fbfbf4" filter="url(#b2)"/>
<path d="M1153.4,731.4 L1162.8,726.2 L1181.5,715.0 L1190.8,711.7 L1223.5,709.9 L1246.9,708.7 L1260.0,704.0 L1260.0,731.4 Z" fill="#f4f6ea" filter="url(#b2)"/>
<path d="M1066.5,722.0 L1074.0,721.1 L1074.9,728.6 L1067.9,728.6 Z" fill="#f4f6ea" filter="url(#b2)"/>
<path d="M999.6,727.7 L1012.6,724.5 L1022.3,730.3 L1022.3,734.9 L999.6,734.9 Z" fill="#f4f6ea" filter="url(#b2)"/>
<path d="M1004.5,705.0 L1010.0,706.6 L1014.5,716.7 L1011.9,718.6 L1007.7,713.1 Z" fill="#f4f6ea" filter="url(#b2)"/>
<path d="M1179.6,636.3 L1183.8,623.4 L1195.5,616.0 L1207.2,616.9 L1214.2,623.4 L1223.5,628.1 L1231.7,637.9 L1223.5,643.3 L1209.5,648.0 L1195.5,651.9 L1183.8,650.3 Z" fill="#9a2238" filter="url(#b2)"/>
<path d="M1179.6,636.3 L1183.8,623.4 L1195.5,616.0 L1207.6,616.9 L1209.5,621.6 L1197.8,623.4 L1188.9,632.8 L1186.1,646.8 L1183.3,649.6 Z" fill="#1d3a7c" filter="url(#b2)"/>
<path d="M1213.0,623.4 L1223.5,628.1 L1231.7,637.9 L1227.0,642.1 L1221.2,635.1 Z" fill="#2b5c9a" filter="url(#b2)"/>
<path d="M1195.5,630.4 L1204.8,628.1 L1209.5,635.1 L1200.2,639.8 Z" fill="#5a4a8a" opacity="0.7" filter="url(#b1)"/>
<path d="M1181.0,612.2 L1191.3,610.8 L1192.2,614.1 L1181.9,616.0 Z" fill="#26306e" filter="url(#b2)"/>
<path d="M1155.8,657.3 L1161.8,656.1 L1162.8,661.3 L1157.2,662.2 Z" fill="#8a2030" filter="url(#b2)"/>
<g fill="none" stroke="#2c3470" stroke-linecap="round" filter="url(#b2)" opacity="0.8">
<path d="M933.1,524.8 L957.4,528.1 L983.4,518.3 L1002.9,515.1 L1019.1,489.1" stroke-width="1.5"/>
<path d="M1002.9,515.1 L1012.6,523.2" stroke-width="1.2"/>
<path d="M1087.3,487.5 L1110.0,486.8 L1129.5,483.6" stroke-width="1.3"/>
<path d="M1179.8,468.0 L1187.9,477.7 L1194.4,478.4" stroke-width="1.5"/>
<path d="M1035.3,607.6 L1048.3,602.7 L1054.8,604.4" stroke-width="2.0"/>
<path d="M918.4,580.0 L920.4,588.1" stroke-width="1.8"/>
<path d="M947.7,662.8 L957.4,675.8 L954.2,682.3" stroke-width="1.3"/>
<path d="M957.4,708.2 L976.9,701.8 L989.9,698.5" stroke-width="1.2"/>
<path d="M1145.7,524.8 L1161.9,541.0" stroke-width="1.2"/>
<path d="M1142.5,695.3 L1145.7,703.4" stroke-width="1.8"/>
<path d="M1226.9,474.5 L1230.1,494.0 L1228.5,513.4" stroke-width="0.9"/>
<path d="M1048.3,555.6 L1067.8,558.9 L1084.0,555.6" stroke-width="1.0"/>
</g>
<g fill="none" stroke="#fbf3f3" stroke-linecap="round" filter="url(#b2)">
<path d="M967.1,523.8 L983.4,519.3 L999.6,516.7" stroke-width="1.3"/>
<path d="M919.4,582.3 L920.4,587.5" stroke-width="1.4"/>
<path d="M1144.1,696.9 L1145.7,701.8" stroke-width="1.2"/>
</g>
</g></g>
<text transform="translate(1353.0,384.6)" font-family='"Liberation Sans", sans-serif' font-size="31" font-weight="bold" text-anchor="start" fill="#0a0a0a" stroke="#0a0a0a" stroke-width="0.45" >E</text>
<rect x="1433.5" y="554.8" width="43.0" height="151.1" fill="#fff" stroke="#0a0a0a" stroke-width="4"/>
<rect x="1504.0" y="688.0" width="43.0" height="17.9" fill="#fff" stroke="#0a0a0a" stroke-width="4"/>
<rect x="1575.7" y="650.4" width="44.3" height="55.5" fill="#fff" stroke="#0a0a0a" stroke-width="4"/>
<line x1="1454.5" y1="520.0" x2="1454.5" y2="584.7" stroke="#0a0a0a" stroke-width="3.6" stroke-linecap="butt"/>
<line x1="1443.2" y1="520.0" x2="1465.8" y2="520.0" stroke="#0a0a0a" stroke-width="3.6" stroke-linecap="butt"/>
<line x1="1443.2" y1="584.7" x2="1465.8" y2="584.7" stroke="#0a0a0a" stroke-width="3.6" stroke-linecap="butt"/>
<line x1="1597.2" y1="628.0" x2="1597.2" y2="672.0" stroke="#0a0a0a" stroke-width="3.6" stroke-linecap="butt"/>
<line x1="1585.9" y1="628.0" x2="1608.5" y2="628.0" stroke="#0a0a0a" stroke-width="3.6" stroke-linecap="butt"/>
<line x1="1585.9" y1="672.0" x2="1608.5" y2="672.0" stroke="#0a0a0a" stroke-width="3.6" stroke-linecap="butt"/>
<rect x="1447.9" y="448.1" width="13.8" height="13.2" fill="#0a0a0a"/>
<rect x="1447.9" y="490.6" width="13.8" height="13.2" fill="#0a0a0a"/>
<rect x="1447.6" y="571.7" width="13.8" height="13.2" fill="#0a0a0a"/>
<rect x="1436.1" y="605.4" width="13.8" height="13.2" fill="#0a0a0a"/>
<rect x="1461.0" y="612.7" width="13.8" height="13.2" fill="#0a0a0a"/>
<ellipse cx="1508.0" cy="687.5" rx="5.3" ry="5.0" fill="#0a0a0a"/>
<ellipse cx="1515.5" cy="686.8" rx="5.3" ry="5.0" fill="#0a0a0a"/>
<ellipse cx="1523.0" cy="686.8" rx="5.3" ry="5.0" fill="#0a0a0a"/>
<ellipse cx="1530.5" cy="687.2" rx="5.3" ry="5.0" fill="#0a0a0a"/>
<ellipse cx="1538.0" cy="688.2" rx="5.3" ry="5.0" fill="#0a0a0a"/>
<ellipse cx="1544.5" cy="690.0" rx="5.3" ry="5.0" fill="#0a0a0a"/>
<ellipse cx="1597.2" cy="548.3" rx="6.4" ry="6.0" fill="#0a0a0a"/>
<ellipse cx="1597.2" cy="626.6" rx="6.4" ry="6.0" fill="#0a0a0a"/>
<ellipse cx="1580.6" cy="674.9" rx="6.4" ry="6.0" fill="#0a0a0a"/>
<ellipse cx="1590.5" cy="675.0" rx="6.4" ry="6.0" fill="#0a0a0a"/>
<ellipse cx="1598.0" cy="677.4" rx="6.4" ry="6.0" fill="#0a0a0a"/>
<ellipse cx="1605.4" cy="682.0" rx="6.4" ry="6.0" fill="#0a0a0a"/>
<ellipse cx="1614.1" cy="686.0" rx="6.4" ry="6.0" fill="#0a0a0a"/>
<line x1="1419.0" y1="405.4" x2="1419.0" y2="707.9" stroke="#0a0a0a" stroke-width="4" stroke-linecap="butt"/>
<line x1="1417.0" y1="705.9" x2="1635.3" y2="705.9" stroke="#0a0a0a" stroke-width="4" stroke-linecap="butt"/>
<line x1="1409.0" y1="705.9" x2="1419.0" y2="705.9" stroke="#0a0a0a" stroke-width="3.6" stroke-linecap="butt"/>
<text transform="translate(1405.5,717.6)" font-family='"Liberation Sans", sans-serif' font-size="33" font-weight="bold" text-anchor="end" fill="#0a0a0a" stroke="#0a0a0a" stroke-width="0.45" >0</text>
<line x1="1409.0" y1="631.2" x2="1419.0" y2="631.2" stroke="#0a0a0a" stroke-width="3.6" stroke-linecap="butt"/>
<text transform="translate(1405.5,643.0)" font-family='"Liberation Sans", sans-serif' font-size="33" font-weight="bold" text-anchor="end" fill="#0a0a0a" stroke="#0a0a0a" stroke-width="0.45" >5</text>
<line x1="1409.0" y1="556.6" x2="1419.0" y2="556.6" stroke="#0a0a0a" stroke-width="3.6" stroke-linecap="butt"/>
<text transform="translate(1405.5,568.3)" font-family='"Liberation Sans", sans-serif' font-size="33" font-weight="bold" text-anchor="end" fill="#0a0a0a" stroke="#0a0a0a" stroke-width="0.45" >10</text>
<line x1="1409.0" y1="481.9" x2="1419.0" y2="481.9" stroke="#0a0a0a" stroke-width="3.6" stroke-linecap="butt"/>
<text transform="translate(1405.5,493.6)" font-family='"Liberation Sans", sans-serif' font-size="33" font-weight="bold" text-anchor="end" fill="#0a0a0a" stroke="#0a0a0a" stroke-width="0.45" >15</text>
<line x1="1409.0" y1="407.3" x2="1419.0" y2="407.3" stroke="#0a0a0a" stroke-width="3.6" stroke-linecap="butt"/>
<text transform="translate(1405.5,419.0)" font-family='"Liberation Sans", sans-serif' font-size="33" font-weight="bold" text-anchor="end" fill="#0a0a0a" stroke="#0a0a0a" stroke-width="0.45" >20</text>
<line x1="1453.6" y1="705.9" x2="1453.6" y2="715.4" stroke="#0a0a0a" stroke-width="3.6" stroke-linecap="butt"/>
<line x1="1525.6" y1="705.9" x2="1525.6" y2="715.4" stroke="#0a0a0a" stroke-width="3.6" stroke-linecap="butt"/>
<line x1="1597.3" y1="705.9" x2="1597.3" y2="715.4" stroke="#0a0a0a" stroke-width="3.6" stroke-linecap="butt"/>
<text transform="translate(1362.9,548.6) scale(1.050,1) rotate(-90)" font-family='"Liberation Sans", sans-serif' font-size="29.7" font-weight="bold" text-anchor="middle" fill="#0a0a0a" stroke="#0a0a0a" stroke-width="0.45" >Fibrosis area(%)</text>
<polyline points="1461,398.5 1461,389.2 1606.3,389.2 1606.3,398.5" fill="none" stroke="#0a0a0a" stroke-width="3.2"/>
<polyline points="1461,430 1461,424.2 1544.6,424.2 1544.6,430" fill="none" stroke="#0a0a0a" stroke-width="3.2"/>
<text transform="translate(1531.0,385.3) scale(1.150,1)" font-family='"Liberation Serif", serif' font-size="27" font-weight="bold" text-anchor="middle" fill="#0a0a0a" stroke="#0a0a0a" stroke-width="0.35" >*</text>
<text transform="translate(1500.9,420.8) scale(1.200,1)" font-family='"Liberation Serif", serif' font-size="27" font-weight="bold" text-anchor="middle" fill="#0a0a0a" stroke="#0a0a0a" stroke-width="0.35" letter-spacing="1.5">**</text>
<text transform="translate(1464.0,744.5) scale(1.15,1) rotate(-45)" font-family='"Liberation Sans", sans-serif' font-size="28" font-weight="bold" text-anchor="end" fill="#0a0a0a" stroke="#0a0a0a" stroke-width="0.4">Vehicle</text>
<text transform="translate(1534.5,742.5) scale(1.15,1) rotate(-45)" font-family='"Liberation Sans", sans-serif' font-size="28" font-weight="bold" text-anchor="end" fill="#0a0a0a" stroke="#0a0a0a" stroke-width="0.4">SR9009 ZT06</text>
<text transform="translate(1605.5,742.5) scale(1.15,1) rotate(-45)" font-family='"Liberation Sans", sans-serif' font-size="28" font-weight="bold" text-anchor="end" fill="#0a0a0a" stroke="#0a0a0a" stroke-width="0.4">SR9009 ZT18</text>
</svg>
</body>
</html>
